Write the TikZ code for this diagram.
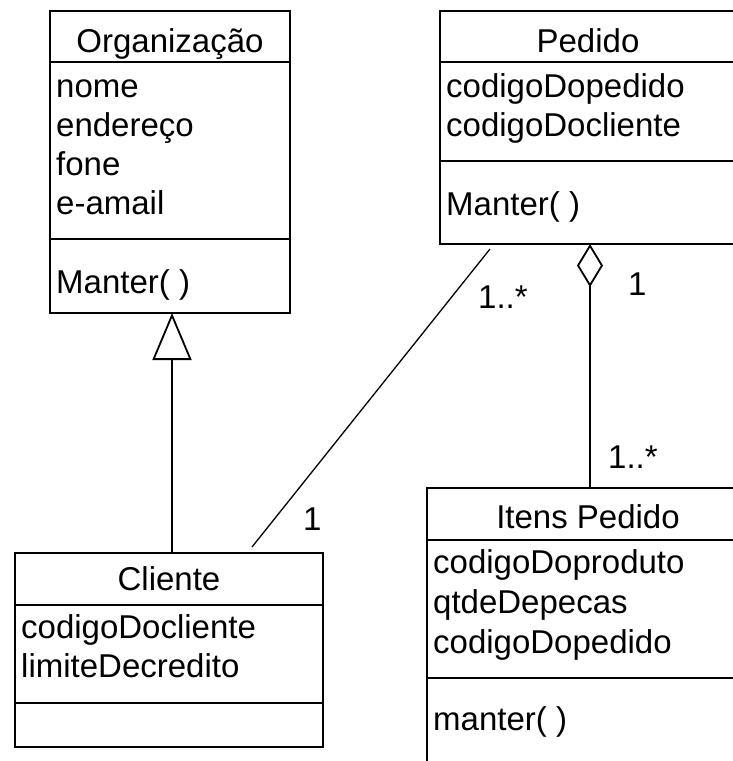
\documentclass[tikz,border=0pt]{standalone}
\usepackage{fontspec}
\setmainfont{Liberation Sans}
\usetikzlibrary{arrows.meta,calc}
\begin{document}
\begin{tikzpicture}[x=1pt,y=-1pt,
  cls/.style={draw, line width=1.8pt, inner sep=0pt, outer sep=0pt, anchor=north west},
  txt/.style={inner sep=0pt, anchor=base west, font=\fontsize{33}{39}\selectfont},
  ttl/.style={inner sep=0pt, anchor=base, font=\fontsize{33}{39}\selectfont},
  lbl/.style={inner sep=0pt, anchor=base west, font=\fontsize{33}{39}\selectfont},
  divider/.style={line width=1.8pt},
  conn/.style={line width=1.8pt},
  assoc/.style={line width=1.3pt}]
\useasboundingbox (0,0) rectangle (733,761);
\clip (0,0) rectangle (733,761);
\fill[white] (0,0) rectangle (733,761);

% Organizacao
\node[cls, minimum width=240pt, minimum height=302pt] (org) at (50,11) {};
\draw[divider] ($(org.north west)+(0,51)$) -- ($(org.north east)+(0,51)$);
\draw[divider] ($(org.north west)+(0,228)$) -- ($(org.north east)+(0,228)$);
\node[ttl] (orgT) at (170,52) {Organização};
\node[txt] (o1) at (56,97) {nome};
\node[txt] (o2) at (56,136) {endereço};
\node[txt] (o3) at (56,175) {fone};
\node[txt] (o4) at (56,214) {e-amail};
\node[txt] (o5) at (56,293) {Manter( )};

% Pedido
\node[cls, minimum width=297pt, minimum height=233pt] (ped) at (440,11) {};
\draw[divider] ($(ped.north west)+(0,51)$) -- ($(ped.north east)+(0,51)$);
\draw[divider] ($(ped.north west)+(0,150)$) -- ($(ped.north east)+(0,150)$);
\node[ttl] (pedT) at (588,52) {Pedido};
\node[txt] (p1) at (446,97) {codigoDopedido};
\node[txt] (p2) at (446,136) {codigoDocliente};
\node[txt] (p3) at (446,215) {Manter( )};

% Cliente
\node[cls, minimum width=308pt, minimum height=194pt] (cli) at (15,553) {};
\draw[divider] ($(cli.north west)+(0,52)$) -- ($(cli.north east)+(0,52)$);
\draw[divider] ($(cli.north west)+(0,150)$) -- ($(cli.north east)+(0,150)$);
\node[ttl] (cliT) at (169,590) {Cliente};
\node[txt] (c1) at (21,638) {codigoDocliente};
\node[txt] (c2) at (21,677) {limiteDecredito};

% Itens Pedido
\node[cls, minimum width=322pt, minimum height=300pt] (itn) at (427,488) {};
\draw[divider] ($(itn.north west)+(0,52)$) -- ($(itn.north east)+(0,52)$);
\draw[divider] ($(itn.north west)+(0,190)$) -- ($(itn.north east)+(0,190)$);
\node[ttl] (itnT) at (588,528) {Itens Pedido};
\node[txt] (i1) at (433,573) {codigoDoproduto};
\node[txt] (i2) at (433,613) {qtdeDepecas};
\node[txt] (i3) at (433,653) {codigoDopedido};
\node[txt] (i4) at (433,730) {manter( )};

% Generalization
\coordinate (genTop) at (org.south -| 172,0);
\coordinate (genBot) at (cli.north -| 172,0);
\draw[conn, -{Triangle[open, length=47pt, width=39pt, line width=1.8pt]}] (genBot) -- (genTop);

% Aggregation
\coordinate (aggTop) at (ped.south -| 590,0);
\coordinate (aggBot) at (itn.north -| 590,0);
\draw[conn, -{Diamond[open, length=43pt, width=26pt, line width=1.8pt]}] (aggBot) -- (aggTop);

% Association
\coordinate (asA) at ($(ped.south west)+(50,5)$);
\coordinate (asB) at ($(cli.north west)+(237,-6)$);
\draw[assoc] (asA) -- (asB);

% Multiplicities
\node[lbl] (m1) at (478,308) {1..*};
\node[lbl] (m2) at (303,530) {1};
\node[lbl] (m3) at (628,295) {1};
\node[lbl] (m4) at (608,468) {1..*};
\end{tikzpicture}
\end{document}
